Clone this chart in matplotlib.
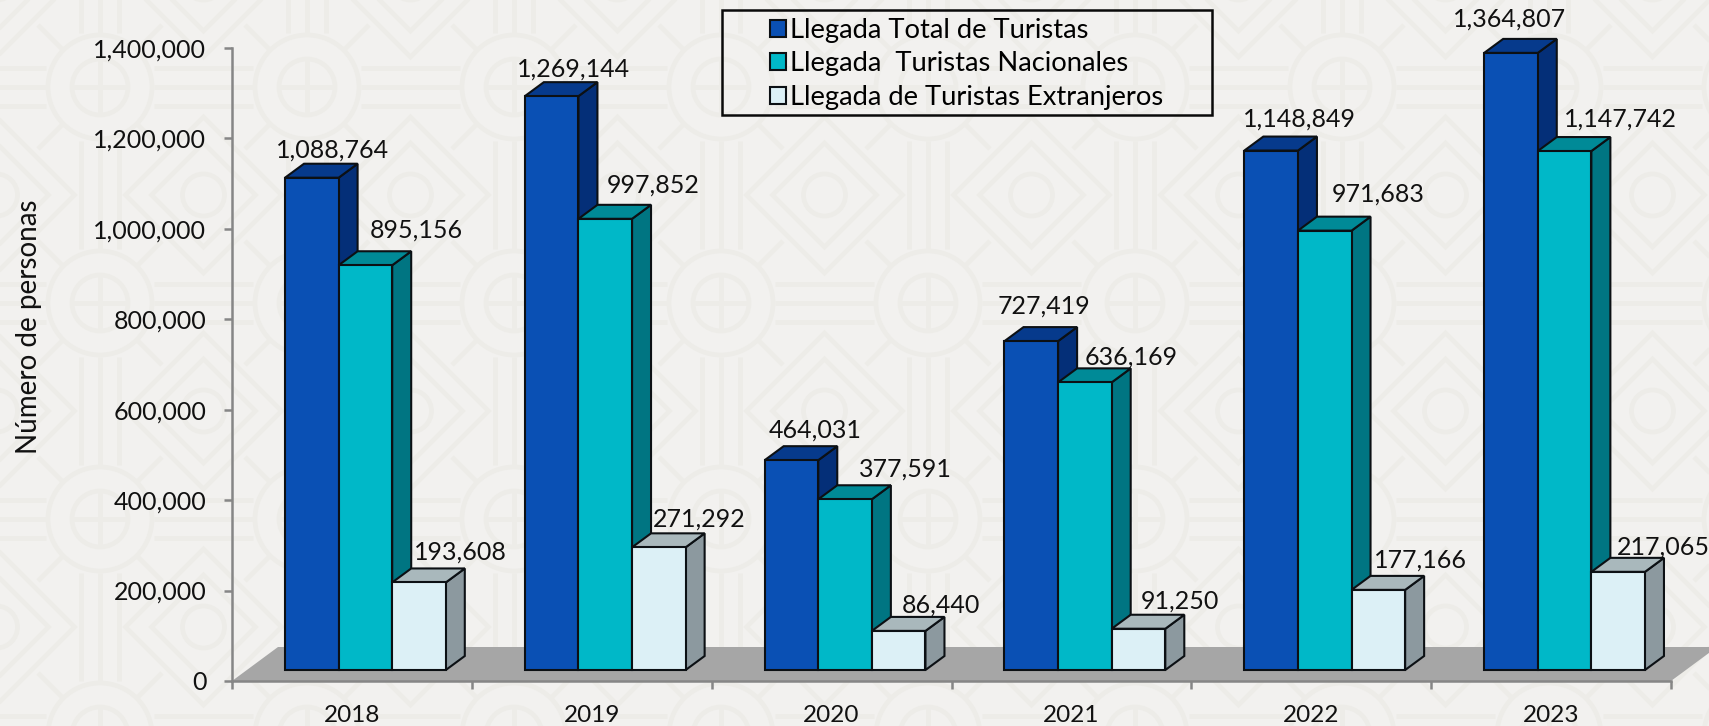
import matplotlib
matplotlib.use("Agg")
import matplotlib.pyplot as plt
from matplotlib.patches import Circle, Polygon, Rectangle, Patch
from matplotlib.ticker import FuncFormatter, FixedLocator, NullFormatter

# ---------- data ----------
years = ["2018", "2019", "2020", "2021", "2022", "2023"]
total_turistas = [1088764, 1269144, 464031, 727419, 1148849, 1364807]
nacionales = [895156, 997852, 377591, 636169, 971683, 1147742]
extranjeros = [193608, 271292, 86440, 91250, 177166, 217065]
series_names = ["Llegada Total de Turistas", "Llegada  Turistas Nacionales",
                "Llegada de Turistas Extranjeros"]
ylabel = "Número de personas"

# ---------- label nudges (pixels from the top of each bar's front face) ----------
offs_total = [(21, 28), (22, 27), (24, 30), (13, 35), (28, 31), (-1, 34)]
offs_nat = [(51, 35), (48, 34), (60, 30), (46, 25), (53, 37), (56, 32)]
offs_ext = [(41, 30), (40, 28), (42, 26), (41, 28), (42, 30), (45, 25)]

# ---------- style ----------
W, H, DPI = 1709, 726, 100
BG, PAT = "#f2f1ef", "#edece8"
FONT = "Lato"
styles = [("#0a50b4", "#042f78", "#063a8c"),
          ("#00b8c8", "#007582", "#008a97"),
          ("#dcf0f6", "#8c999f", "#a9b8bc")]
EDGE = "#0c1014"
AXC = "#868686"

fig = plt.figure(figsize=(W / DPI, H / DPI), dpi=DPI, facecolor=BG)

# ---------- decorative background ----------
bg = fig.add_axes([0, 0, 1, 1], zorder=0)
bg.set_xlim(0, W); bg.set_ylim(H, 0); bg.axis("off")
TX, TY = 207, 216
lw = 3.4
kw = dict(color=PAT, lw=lw, zorder=1, solid_capstyle="butt")
for i in range(-1, 10):
    for j in range(-1, 5):
        cx, cy = 100 + TX * i, 87 + TY * j
        sx, sy = cx + TX / 2, cy + TY / 2
        # bands through the large rings
        for d in (-19, 0, 19):
            bg.plot([cx + 54, cx + TX - 54], [cy + d, cy + d], **kw)
            bg.plot([cx + d, cx + d], [cy + 54, cy + TY - 54], **kw)
        bg.plot([cx - 29, cx + 29], [cy, cy], **kw)
        bg.plot([cx, cx], [cy - 29, cy + 29], **kw)
        bg.add_patch(Circle((cx, cy), 52, fill=False, ec=PAT, lw=lw, zorder=1))
        bg.add_patch(Circle((cx, cy), 28, fill=False, ec=PAT, lw=lw, zorder=1))
        # diamonds around the small rings
        for r in (52, 78):
            bg.add_patch(Polygon([(sx - r, sy), (sx, sy - r), (sx + r, sy), (sx, sy + r)],
                                 closed=True, fill=False, ec=PAT, lw=lw, zorder=1))
        bg.add_patch(Circle((sx, sy), 21, fill=False, ec=PAT, lw=lw, zorder=1))
        # spokes from large rings to the diamonds
        for sgx in (-1, 1):
            for sgy in (-1, 1):
                bg.plot([cx + sgx * 38, cx + sgx * 62], [cy + sgy * 38, cy + sgy * 62], **kw)

# ---------- chart axes ----------
ax = fig.add_axes([232 / W, (H - 681) / H, 1439 / W, 633 / H], zorder=2)
ax.patch.set_alpha(0)
ax.set_xlim(0, len(years))
ax.set_ylim(0, 1400000)

xpx = 1439 / len(years)      # pixels per category
ypx = 633 / 1400000          # pixels per person
depth_x, depth_y = 19 / xpx, 14 / ypx
base = 11 / ypx
bar_w = 53.6 / xpx
start = 53 / xpx

# floor
ax.add_patch(Polygon([(0, 0), (46 / xpx, 34 / ypx), (len(years) + 46 / xpx, 34 / ypx),
                      (len(years), 0)], closed=True, fc="#a6a6a6", ec="none",
                     clip_on=False, zorder=1))

all_series = [total_turistas, nacionales, extranjeros]
all_offs = [offs_total, offs_nat, offs_ext]
for s, (vals, offs, (front, side, top)) in enumerate(zip(all_series, all_offs, styles)):
    for i, v in enumerate(vals):
        x0 = i + start + s * bar_w
        x1 = x0 + bar_w
        y1 = base + v
        z = 2 + s + i * 0.01
        ax.add_patch(Polygon([(x1, base), (x1 + depth_x, base + depth_y),
                              (x1 + depth_x, y1 + depth_y), (x1, y1)], closed=True,
                             fc=side, ec=EDGE, lw=1.5, clip_on=False, zorder=z))
        ax.add_patch(Polygon([(x0, y1), (x0 + depth_x, y1 + depth_y),
                              (x1 + depth_x, y1 + depth_y), (x1, y1)], closed=True,
                             fc=top, ec=EDGE, lw=1.5, clip_on=False, zorder=z))
        ax.bar(x0, v, width=bar_w, bottom=base, align="edge", color=front,
               edgecolor=EDGE, linewidth=1.5, clip_on=False, zorder=z + 0.001)
        ax.annotate(f"{v:,}", xy=(x0 + bar_w / 2, y1), xytext=offs[i],
                    textcoords="offset pixels", ha="center", va="center",
                    fontsize=18, family=FONT, color="#111111", zorder=10,
                    annotation_clip=False)

# ---------- axes furniture ----------
for sp in ("top", "right"):
    ax.spines[sp].set_visible(False)
for sp in ("left", "bottom"):
    ax.spines[sp].set_color(AXC)
    ax.spines[sp].set_linewidth(1.8)
    ax.spines[sp].set_zorder(5)
ax.yaxis.set_major_locator(FixedLocator(range(0, 1400001, 200000)))
ax.yaxis.set_major_formatter(FuncFormatter(lambda v, _: f"{int(v):,}"))
ax.tick_params(axis="y", length=5.5, width=1.8, color=AXC, pad=13, labelsize=18,
               labelcolor="#111111")
ax.xaxis.set_major_locator(FixedLocator(range(len(years) + 1)))
ax.xaxis.set_major_formatter(NullFormatter())
ax.xaxis.set_minor_locator(FixedLocator([i + 0.5 for i in range(len(years))]))
ax.set_xticklabels(years, minor=True)
ax.tick_params(axis="x", which="major", length=6, width=1.8, color=AXC)
ax.tick_params(axis="x", which="minor", length=0, pad=17, labelsize=17.5, labelcolor="#111111")
for t in ax.get_yticklabels() + ax.get_xticklabels(minor=True):
    t.set_family(FONT)
ax.set_ylabel(ylabel, fontsize=20, family=FONT, color="#111111")
ax.yaxis.set_label_coords((42 - 232) / 1439, (681 - 327) / 633)

# ---------- legend ----------
fig.add_artist(Rectangle((722 / W, (H - 115) / H), 490 / W, 105 / H, transform=fig.transFigure,
                         fill=False, ec="#0a0a0a", lw=1.8, zorder=6))
handles = [Patch(fc=st[0], ec=EDGE, lw=1.5, label=n) for st, n in zip(styles, series_names)]
fig.legend(handles=handles, loc="upper left", bbox_to_anchor=(759 / W, (H - 7) / H),
           frameon=False, prop={"family": FONT, "size": 19.7}, handlelength=0.6,
           handleheight=0.6, handletextpad=0.12, labelspacing=0.31, borderpad=0.4,
           borderaxespad=0)

fig.savefig("out.png", dpi=DPI, facecolor=BG)
